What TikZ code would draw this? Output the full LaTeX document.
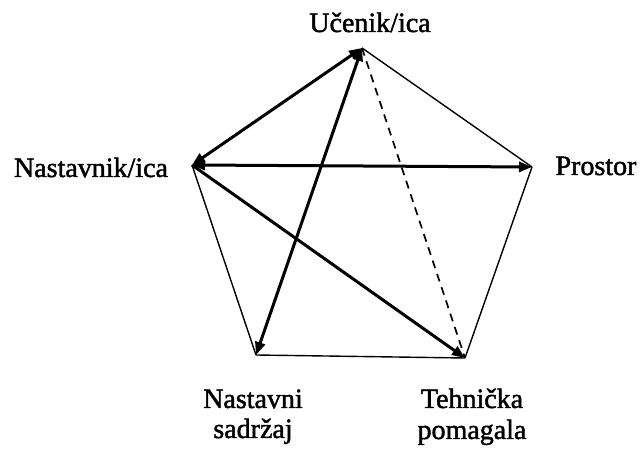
\documentclass[tikz,border=0pt]{standalone}
\usepackage{fontspec}
\setmainfont{Liberation Serif}
\newfontfamily\lblfont[FakeBold=1.6]{Liberation Serif}
\usetikzlibrary{arrows.meta}
\begin{document}
\begin{tikzpicture}[x=1pt,y=1pt,
  lbl/.style={font=\lblfont\fontsize{28}{31}\selectfont, align=center, inner sep=0pt, anchor=base},
  thinline/.style={line width=1.4pt},
  tip/.style={arrows={-Triangle[length=13pt,width=10pt]}},
  twotip/.style={arrows={Triangle[length=13pt,width=10pt]-Triangle[length=13pt,width=10pt]}},
  thickline/.style={line width=3pt},
  dashline/.style={line width=1.7pt, dash pattern=on 8pt off 6pt}]
\useasboundingbox (0,0) rectangle (640,449);
\coordinate (T) at (362,401);
\coordinate (L) at (192,284);
\coordinate (R) at (532,282);
\coordinate (BL) at (256,94);
\coordinate (BR) at (465,91);
\node[lbl] (tU) at (370,417) {Učenik/ica};
\node[lbl] (tN) at (91,272) {Nastavnik/ica};
\node[lbl] (tP) at (596,274) {Prostor};
\node[lbl] (tS) at (253,41) {Nastavni};
\node[lbl] (tS2) at (253,11) {sadržaj};
\node[lbl] (tT) at (472,41) {Tehnička};
\node[lbl] (tT2) at (472,10) {pomagala};
% thin edges
\draw[thinline] (T) -- (R);
\draw[thinline] (R) -- (BR);
\draw[thinline] (BL) -- (BR);
\draw[thinline] (L) -- (BL);
\draw[dashline] (T) -- (BR);
% thick arrows
\draw[thickline, twotip] (L) -- (T);
\draw[thickline, twotip] (L) -- (R);
\draw[thickline, twotip] (BL) -- (T);
\draw[thickline, tip] (L) -- (BR);
\end{tikzpicture}
\end{document}
